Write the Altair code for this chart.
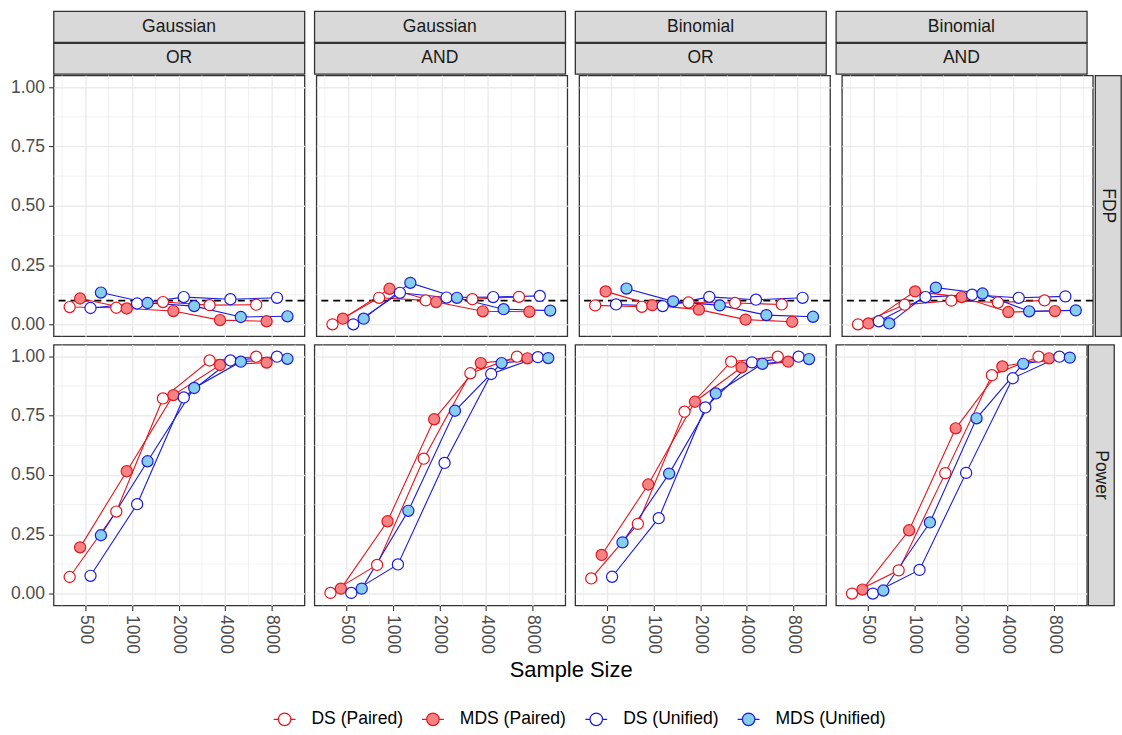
import json
import altair as alt
import pandas as pd

# ---------------- data ----------------
sample_sizes = [500, 1000, 2000, 4000, 8000]
methods = ["DS (Paired)", "MDS (Paired)", "DS (Unified)", "MDS (Unified)"]
panel_families = ["Gaussian", "Gaussian", "Binomial", "Binomial"]
panel_rules = ["OR", "AND", "OR", "AND"]
metric_names = ["FDP", "Power"]

x_major = [500, 1000, 2000, 4000, 8000]
x_minor = [354, 707, 1414, 2828, 5657, 11314]
y_major = [0, 0.25, 0.5, 0.75, 1.0]
y_minor = [0.125, 0.375, 0.625, 0.875]
fdp_target = [0.1]

# values per method, in sample-size order
fdp_gaussian_or = {
    "DS (Paired)":   [0.073, 0.070, 0.094, 0.081, 0.083],
    "MDS (Paired)":  [0.109, 0.067, 0.056, 0.018, 0.013],
    "DS (Unified)":  [0.069, 0.088, 0.115, 0.106, 0.112],
    "MDS (Unified)": [0.134, 0.090, 0.077, 0.031, 0.034],
}
power_gaussian_or = {
    "DS (Paired)":   [0.070, 0.346, 0.823, 0.983, 0.999],
    "MDS (Paired)":  [0.195, 0.516, 0.837, 0.964, 0.974],
    "DS (Unified)":  [0.075, 0.377, 0.827, 0.983, 0.999],
    "MDS (Unified)": [0.246, 0.558, 0.867, 0.978, 0.990],
}
fdp_gaussian_and = {
    "DS (Paired)":   [0.000, 0.112, 0.101, 0.106, 0.116],
    "MDS (Paired)":  [0.024, 0.150, 0.094, 0.055, 0.053],
    "DS (Unified)":  [0.000, 0.133, 0.113, 0.115, 0.120],
    "MDS (Unified)": [0.024, 0.175, 0.112, 0.064, 0.058],
}
power_gaussian_and = {
    "DS (Paired)":   [0.003, 0.121, 0.569, 0.929, 0.999],
    "MDS (Paired)":  [0.021, 0.305, 0.735, 0.972, 0.992],
    "DS (Unified)":  [0.003, 0.123, 0.551, 0.926, 0.997],
    "MDS (Unified)": [0.021, 0.349, 0.771, 0.972, 0.993],
}
fdp_binomial_or = {
    "DS (Paired)":   [0.080, 0.074, 0.092, 0.090, 0.084],
    "MDS (Paired)":  [0.139, 0.081, 0.062, 0.020, 0.011],
    "DS (Unified)":  [0.084, 0.077, 0.116, 0.104, 0.112],
    "MDS (Unified)": [0.151, 0.097, 0.080, 0.039, 0.032],
}
power_binomial_or = {
    "DS (Paired)":   [0.064, 0.294, 0.767, 0.978, 0.999],
    "MDS (Paired)":  [0.163, 0.460, 0.809, 0.954, 0.978],
    "DS (Unified)":  [0.071, 0.318, 0.785, 0.975, 0.999],
    "MDS (Unified)": [0.216, 0.506, 0.844, 0.969, 0.989],
}
fdp_binomial_and = {
    "DS (Paired)":   [0.000, 0.083, 0.100, 0.092, 0.101],
    "MDS (Paired)":  [0.004, 0.139, 0.115, 0.052, 0.056],
    "DS (Unified)":  [0.013, 0.115, 0.125, 0.112, 0.118],
    "MDS (Unified)": [0.004, 0.155, 0.130, 0.055, 0.059],
}
power_binomial_and = {
    "DS (Paired)":   [0.000, 0.098, 0.508, 0.921, 0.999],
    "MDS (Paired)":  [0.017, 0.267, 0.697, 0.958, 0.992],
    "DS (Unified)":  [0.000, 0.100, 0.509, 0.908, 0.999],
    "MDS (Unified)": [0.013, 0.300, 0.739, 0.969, 0.995],
}

panel_tables = [
    (fdp_gaussian_or, power_gaussian_or),
    (fdp_gaussian_and, power_gaussian_and),
    (fdp_binomial_or, power_binomial_or),
    (fdp_binomial_and, power_binomial_and),
]

records = []
for p, tables in enumerate(panel_tables):
    for metric, table in zip(metric_names, tables):
        for m in methods:
            for n, v in zip(sample_sizes, table[m]):
                records.append({"panel": p, "metric": metric, "method": m, "n": n, "value": v})
data = pd.DataFrame(records)

# ---------------- style ----------------
FONT = "Liberation Sans"
PW, PH = 252, 262          # panel size
STRIP_H = 31
RSTRIP_W = 26
BORDER = 1.3
BOUND_PAD = 2 * BORDER     # vega expands each view's bounds by its stroke width
COL_SPACING = 10.5 - BOUND_PAD
line_colors = ["#E5141C", "#E5141C", "#1A1AE0", "#1A1AE0"]
fill_colors = ["#FFFFFF", "#F58383", "#FFFFFF", "#87CEEB"]
dodge_step = 0.2234  # dodge width in doublings

xscale = alt.Scale(type="log", domain=[312, 13000], nice=False)
yscale = alt.Scale(domain=[-0.05, 1.05], nice=False, zero=False)

grid_common = dict(domain=False, grid=True, gridColor="#EBEBEB", gridWidth=1.4, title=None)
tick_common = dict(labelFontSize=17.6, labelColor="#4D4D4D", labelFont=FONT, tickSize=5,
                   tickColor="#333333", tickWidth=1.1, labelPadding=4,
                   labelFlush=False, labelOverlap=False)

x_axis_labeled = alt.Axis(values=x_major, format="d", labelAngle=90, **tick_common, **grid_common)
x_axis_blank = alt.Axis(values=x_major, labels=False, ticks=False, **grid_common)
y_axis_labeled = alt.Axis(values=y_major, format=".2f", **tick_common, **grid_common)
y_axis_blank = alt.Axis(values=y_major, labels=False, ticks=False, **grid_common)
ghost_axis = alt.Axis(values=[0.5], format=".2f", labelFontSize=17.6, labelFont=FONT,
                      labelOpacity=0, tickSize=5, tickOpacity=0, labelPadding=4,
                      domain=False, grid=False, title=None)

legend_symbol = ("M -1.31 0 L -0.75 0 M 0.75 0 L 1.31 0 "
                 "M -0.75 0 A 0.75 0.75 0 1 1 0.75 0 A 0.75 0.75 0 1 1 -0.75 0 Z")
legend_spec = alt.Legend(
    orient="none", legendX=223, legendY=702, direction="horizontal", title=None,
    symbolType=legend_symbol, symbolSize=280, symbolStrokeWidth=1.2,
    labelFontSize=17.6, labelFont=FONT, labelColor="black", labelOffset=18,
    columnPadding=16, padding=0,
)
stroke_scale = alt.Scale(domain=methods, range=line_colors)
fill_scale = alt.Scale(domain=methods, range=fill_colors)

panel_view = alt.ViewBackground(fill="white", stroke="#333333", strokeWidth=BORDER)
strip_view = alt.ViewBackground(fill="#D9D9D9", stroke="#333333", strokeWidth=BORDER)
plain_view = alt.ViewBackground(fill="transparent", strokeWidth=0)

dodge_expr = ("datum.n * pow(2, (indexof(" + json.dumps(methods) +
              ", datum.method) - 1.5) * " + str(dodge_step) + ")")


def panel(p, metric, left, bottom):
    xa = x_axis_labeled if bottom else x_axis_blank
    ya = y_axis_labeled if left else y_axis_blank
    X = lambda f: alt.X(f, scale=xscale, axis=xa)
    Y = lambda f: alt.Y(f, scale=yscale, axis=ya)

    xminor = alt.Chart(pd.DataFrame({"xd": x_minor})).mark_rule(
        color="#EBEBEB", strokeWidth=0.7).encode(x=X("xd:Q"))
    yminor = alt.Chart(pd.DataFrame({"value": y_minor})).mark_rule(
        color="#EBEBEB", strokeWidth=0.7).encode(y=Y("value:Q"))

    base = alt.Chart(data).transform_filter(
        (alt.datum.panel == p) & (alt.datum.metric == metric)
    ).transform_calculate(xd=dodge_expr)

    lines = base.mark_line(strokeWidth=1.1).encode(
        x=X("xd:Q"), y=Y("value:Q"),
        stroke=alt.Stroke("method:N", scale=stroke_scale, legend=legend_spec),
    )
    points = base.mark_point(shape="circle", filled=True, opacity=1, size=125, strokeWidth=1.2).encode(
        x=X("xd:Q"), y=Y("value:Q"),
        fill=alt.Fill("method:N", scale=fill_scale, legend=legend_spec),
        stroke=alt.Stroke("method:N", scale=stroke_scale, legend=legend_spec),
    )
    layers = [xminor, yminor]
    if metric == "FDP":
        hline = alt.Chart(pd.DataFrame({"value": fdp_target})).mark_rule(
            color="black", strokeDash=[7, 5], strokeWidth=1.6).encode(y=Y("value:Q"))
        layers.append(hline)
    layers += [lines, points]
    return alt.layer(*layers).properties(width=PW, height=PH, view=panel_view)


def top_strip(text, first):
    enc = dict(text="t:N", x=alt.value(PW / 2))
    if first:
        enc["y"] = alt.YDatum(0.5, type="quantitative", scale=alt.Scale(domain=[0, 1]), axis=ghost_axis)
    else:
        enc["y"] = alt.value(STRIP_H / 2)
    return alt.Chart(pd.DataFrame({"t": [text]})).mark_text(
        fontSize=17.6, font=FONT, color="#1A1A1A", baseline="middle", align="center"
    ).encode(**enc).properties(width=PW, height=STRIP_H, view=strip_view)


def right_strip(text):
    return alt.Chart(pd.DataFrame({"t": [text]})).mark_text(
        fontSize=17.6, font=FONT, color="#1A1A1A", angle=90, baseline="middle", align="center"
    ).encode(text="t:N", x=alt.value(RSTRIP_W / 2), y=alt.value(PH / 2)).properties(
        width=RSTRIP_W, height=PH, view=strip_view)


strip_row1 = alt.hconcat(*[top_strip(f, i == 0) for i, f in enumerate(panel_families)], spacing=COL_SPACING)
strip_row2 = alt.hconcat(*[top_strip(r, i == 0) for i, r in enumerate(panel_rules)], spacing=COL_SPACING)

row_fdp = alt.hconcat(
    alt.hconcat(*[panel(p, "FDP", p == 0, False) for p in range(4)], spacing=COL_SPACING),
    right_strip("FDP"), spacing=-BOUND_PAD)
row_pow = alt.hconcat(
    alt.hconcat(*[panel(p, "Power", p == 0, True) for p in range(4)], spacing=COL_SPACING),
    right_strip("Power"), spacing=-BOUND_PAD)

title_w = 4 * PW + 3 * 10.5
title_chart = alt.Chart(pd.DataFrame({"t": ["Sample Size"]})).mark_text(
    fontSize=22, font=FONT, color="black", baseline="middle", align="center"
).encode(
    text="t:N", x=alt.value(title_w / 2),
    y=alt.YDatum(0.5, type="quantitative", scale=alt.Scale(domain=[0, 1]), axis=ghost_axis),
).properties(width=title_w, height=22, view=plain_view)

strips = alt.vconcat(strip_row1, strip_row2, spacing=-BOUND_PAD)
rows = alt.vconcat(row_fdp, row_pow, spacing=9 - BOUND_PAD)
lower = alt.vconcat(rows, title_chart, spacing=4)

chart = alt.vconcat(strips, lower, spacing=2 - BOUND_PAD).properties(
    padding={"left": 9.8, "top": 8.7, "right": 0, "bottom": 0}
).configure(font=FONT).configure_view(stroke="transparent")

chart.save("out.html", embed_options={"renderer": "svg", "actions": False})
